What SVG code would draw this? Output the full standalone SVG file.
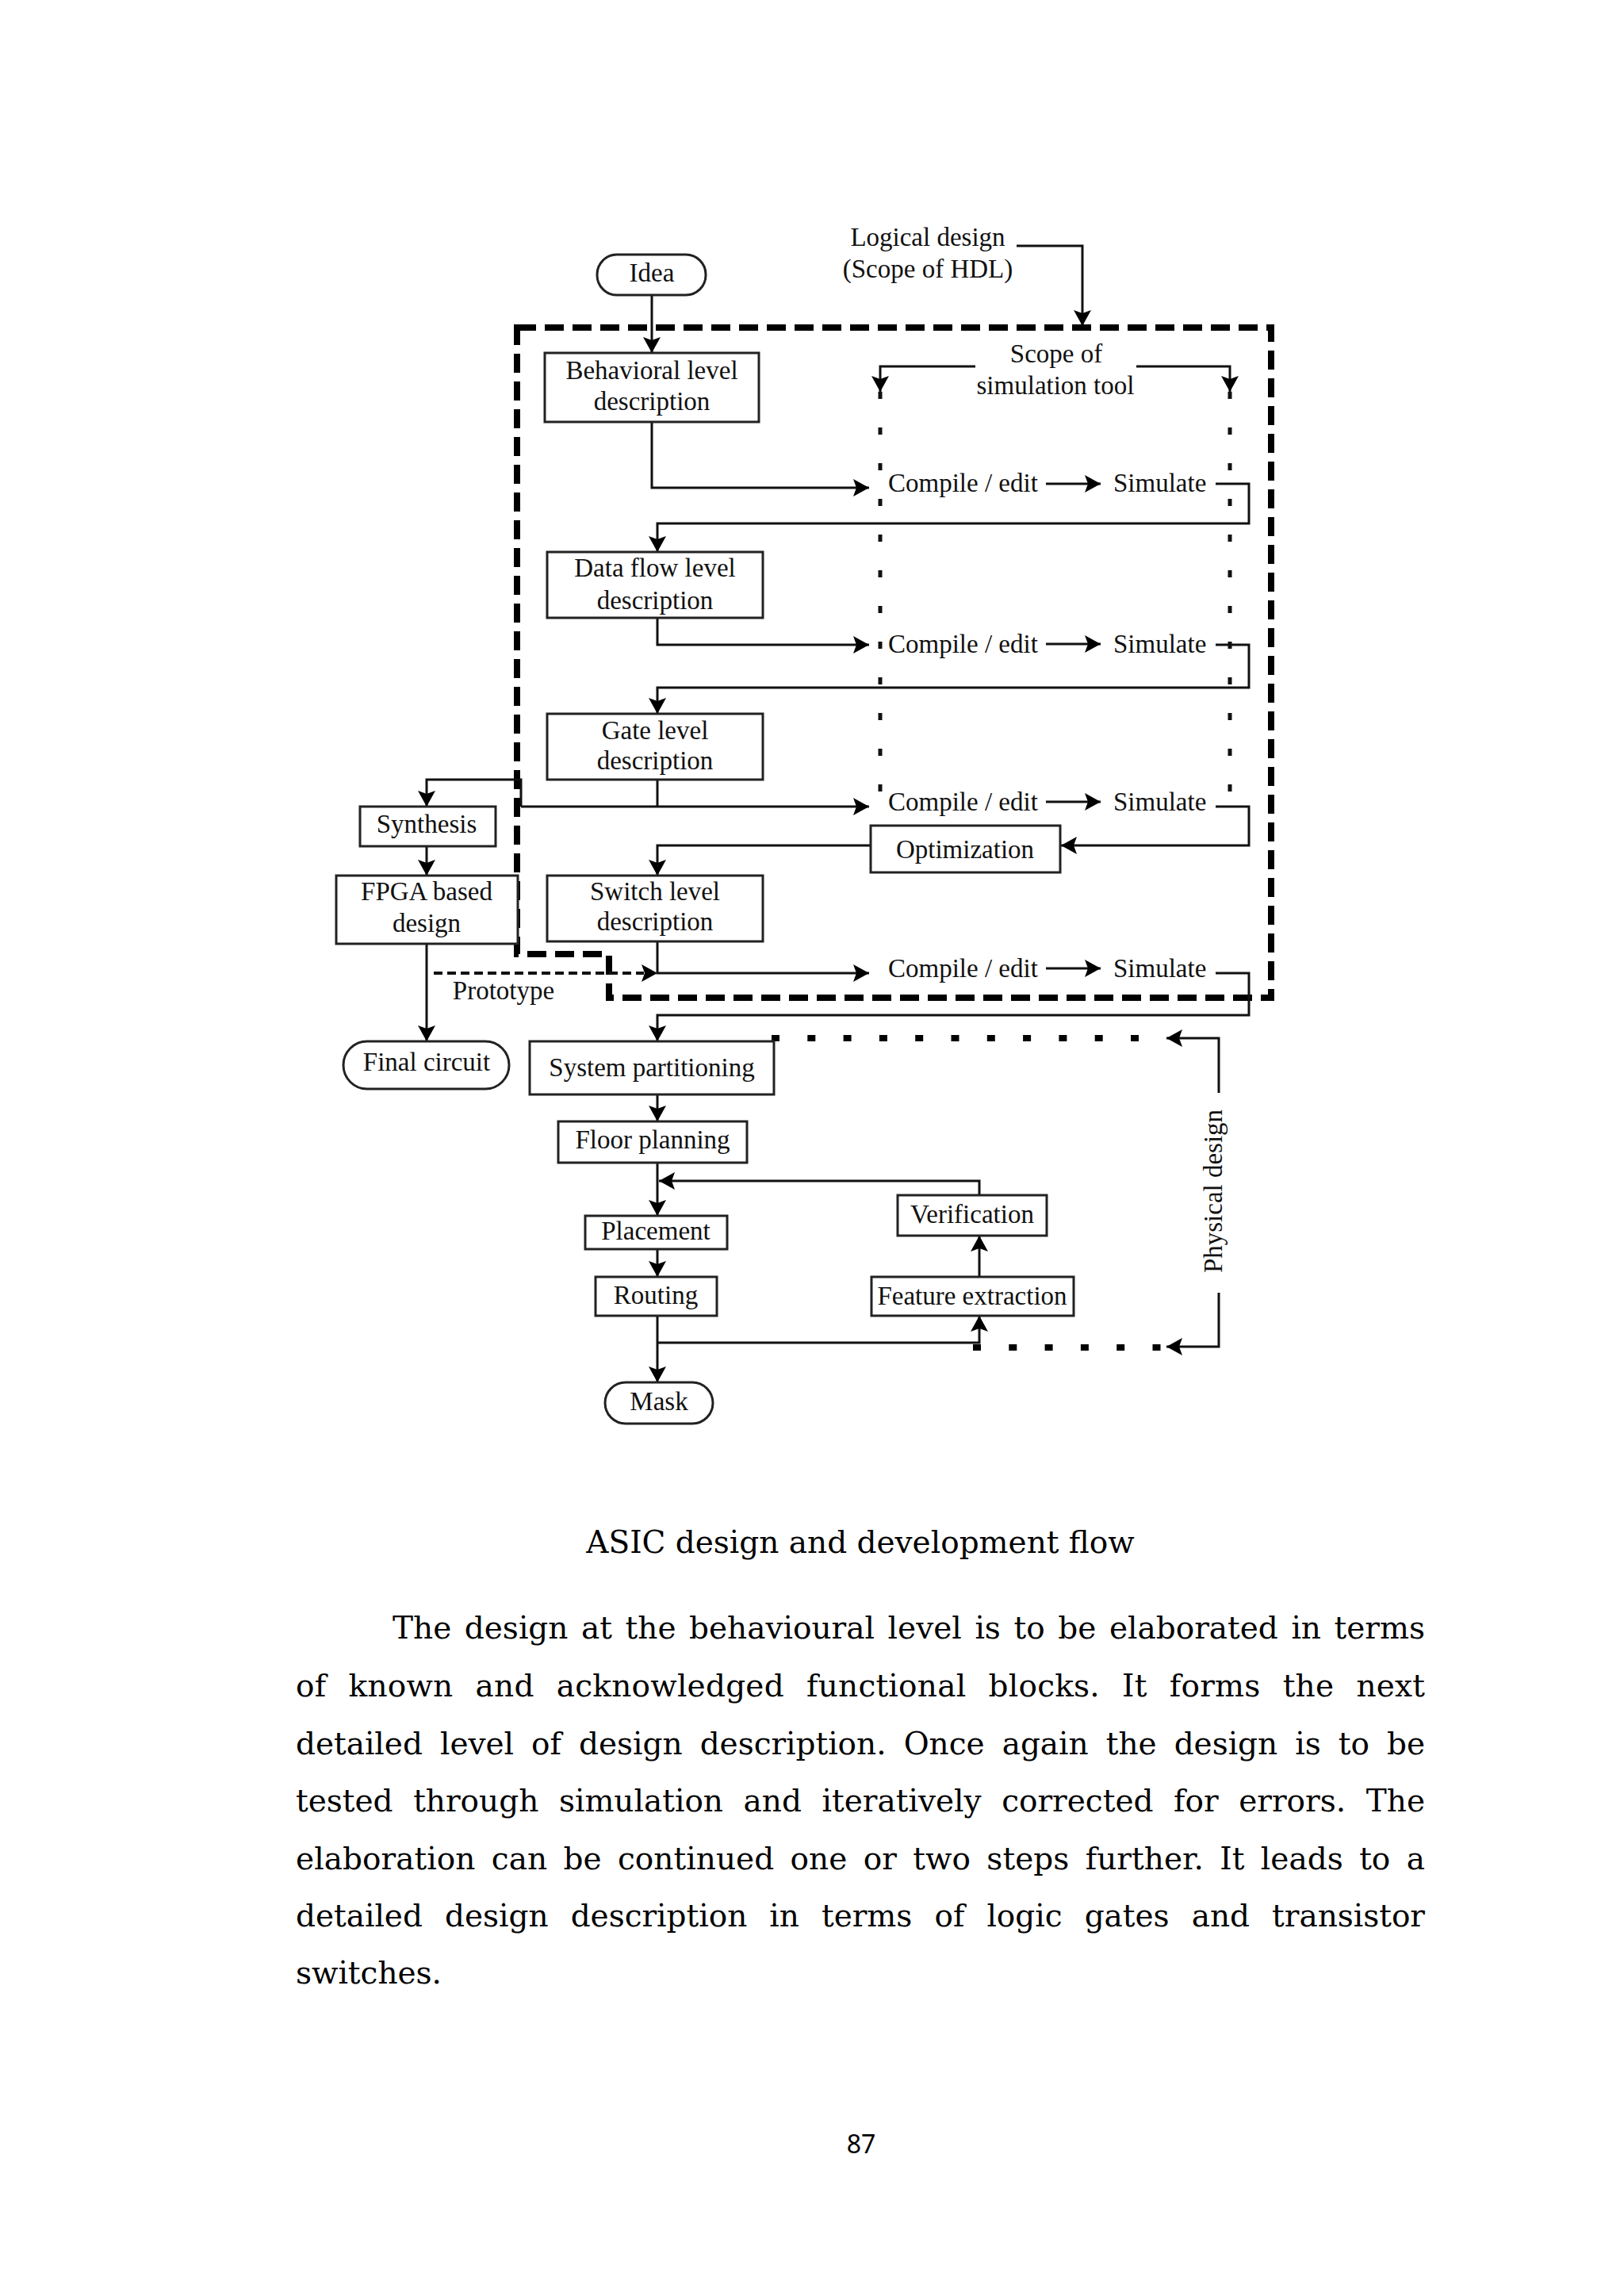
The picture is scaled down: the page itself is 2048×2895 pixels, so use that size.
<svg xmlns="http://www.w3.org/2000/svg" width="2048" height="2895" viewBox="0 0 2048 2895">
<defs>
<marker id="arr" viewBox="0 0 20 22" refX="20" refY="11" markerWidth="20" markerHeight="22" markerUnits="userSpaceOnUse" orient="auto">
<path d="M0,0 L20,11 L0,22 L4,11 z" fill="#000"/>
</marker>
<style>
.bx{fill:#fff;stroke:#222;stroke-width:3}
.lb{font-family:"Liberation Serif","Times New Roman",serif;font-size:33px;fill:#111;text-anchor:middle}
.ls{font-family:"Liberation Serif","Times New Roman",serif;font-size:33px;fill:#111}
.ln{fill:none;stroke:#111;stroke-width:3}
.ar{fill:none;stroke:#111;stroke-width:3;marker-end:url(#arr)}
.bd{fill:none;stroke:#000;stroke-width:8;stroke-dasharray:24 11}
.pr{fill:none;stroke:#111;stroke-width:4;stroke-dasharray:11 6}
.sd{fill:none;stroke:#111;stroke-width:5;stroke-dasharray:9 36}
.pd{fill:none;stroke:#000;stroke-width:8;stroke-dasharray:10 35.3}
.body{font-family:"DejaVu Serif",serif;font-size:39px;fill:#000}
</style>
</defs>
<rect width="2048" height="2895" fill="#fff"/>

<g id="boundary">
<path class="bd" d="M652,413 H1603 V1258 H768 V1203 H652 Z"/>
</g>

<g id="connectors">
<path class="ar" d="M822,372 V445"/>
<path class="ar" d="M822,532 V615 H1096"/>
<path class="ar" d="M1319,610 H1388"/>
<path class="ar" d="M1533,610 H1575 V660 H829 V696"/>
<path class="ar" d="M829,779 V813 H1096"/>
<path class="ar" d="M1319,812 H1388"/>
<path class="ar" d="M1533,813 H1575 V867 H829 V900"/>
<path class="ln" d="M829,983 V1017"/>
<path class="ar" d="M657,1017 H1096"/>
<path class="ar" d="M657,1017 V983 H538 V1017"/>
<path class="ar" d="M1319,1011 H1388"/>
<path class="ar" d="M1533,1017 H1575 V1066 H1338"/>
<path class="ar" d="M1098,1066 H829 V1104"/>
<path class="ar" d="M538,1067 V1104"/>
<path class="ar" d="M538,1190 V1313"/>
<path class="pr" d="M547,1227 H812"/>
<path d="M809,1216 L829,1227 L809,1238 L813,1227 z" fill="#000"/>
<path class="ar" d="M829,1187 V1227 H1096"/>
<path class="ar" d="M1319,1221 H1388"/>
<path class="ar" d="M1533,1227 H1575 V1280 H829 V1313"/>
<path class="ar" d="M1282,310 H1365 V411"/>
<path class="ar" d="M1230,462 H1110 V494"/>
<path class="ar" d="M1433,462 H1551 V494"/>
<path class="sd" d="M1110,494 V1005"/>
<path class="sd" d="M1551,494 V1005"/>
<path class="ar" d="M829,1380 V1414"/>
<path class="ar" d="M829,1466 V1533"/>
<path class="ar" d="M1235,1507 V1489 H831"/>
<path class="ar" d="M829,1575 V1610"/>
<path class="ar" d="M829,1659 V1743"/>
<path class="ar" d="M829,1693 H1235 V1659"/>
<path class="ar" d="M1235,1610 V1558"/>
<path class="ar" d="M1537,1378 V1309 H1471"/>
<path class="ar" d="M1537,1630 V1698 H1471"/>
<path class="pd" d="M973,1309 H1445"/>
<path class="pd" d="M1227,1699 H1465"/>
</g>

<g id="idea"><rect class="bx" x="753" y="321" width="137" height="51" rx="25"/><text class="lb" x="822" y="355">Idea</text></g>
<g id="logical-design"><text class="lb" x="1170" y="310">Logical design</text><text class="lb" x="1170" y="350">(Scope of HDL)</text></g>
<g id="scope-sim"><text class="lb" x="1332" y="457">Scope of</text><text class="lb" x="1331" y="497">simulation tool</text></g>
<g id="behavioral"><rect class="bx" x="687" y="445" width="270" height="87"/><text class="lb" x="822" y="478">Behavioral level</text><text class="lb" x="822" y="517">description</text></g>
<g id="dataflow"><rect class="bx" x="690" y="696" width="272" height="83"/><text class="lb" x="826" y="727">Data flow level</text><text class="lb" x="826" y="768">description</text></g>
<g id="gate"><rect class="bx" x="690" y="900" width="272" height="83"/><text class="lb" x="826" y="932">Gate level</text><text class="lb" x="826" y="970">description</text></g>
<g id="switch"><rect class="bx" x="690" y="1104" width="272" height="83"/><text class="lb" x="826" y="1135">Switch level</text><text class="lb" x="826" y="1173">description</text></g>
<g id="compile1"><text class="ls" x="1120" y="620">Compile / edit</text></g>
<g id="simulate1"><text class="ls" x="1404" y="620">Simulate</text></g>
<g id="compile2"><text class="ls" x="1120" y="823">Compile / edit</text></g>
<g id="simulate2"><text class="ls" x="1404" y="823">Simulate</text></g>
<g id="compile3"><text class="ls" x="1120" y="1022">Compile / edit</text></g>
<g id="simulate3"><text class="ls" x="1404" y="1022">Simulate</text></g>
<g id="compile4"><text class="ls" x="1120" y="1232">Compile / edit</text></g>
<g id="simulate4"><text class="ls" x="1404" y="1232">Simulate</text></g>
<g id="optimization"><rect class="bx" x="1098" y="1041" width="239" height="59"/><text class="lb" x="1217" y="1082">Optimization</text></g>
<g id="synthesis"><rect class="bx" x="454" y="1017" width="171" height="50"/><text class="lb" x="538" y="1050">Synthesis</text></g>
<g id="fpga"><rect class="bx" x="424" y="1104" width="229" height="86"/><text class="lb" x="538" y="1135">FPGA based</text><text class="lb" x="538" y="1175">design</text></g>
<g id="prototype"><text class="lb" x="635" y="1260">Prototype</text></g>
<g id="final"><rect class="bx" x="433" y="1313" width="209" height="60" rx="30"/><text class="lb" x="538" y="1350">Final circuit</text></g>
<g id="partitioning"><rect class="bx" x="668" y="1313" width="308" height="67"/><text class="lb" x="822" y="1357">System partitioning</text></g>
<g id="floor"><rect class="bx" x="704" y="1414" width="238" height="52"/><text class="lb" x="823" y="1448">Floor planning</text></g>
<g id="placement"><rect class="bx" x="738" y="1533" width="179" height="42"/><text class="lb" x="827" y="1563">Placement</text></g>
<g id="routing"><rect class="bx" x="751" y="1610" width="153" height="49"/><text class="lb" x="827" y="1644">Routing</text></g>
<g id="mask"><rect class="bx" x="763" y="1743" width="136" height="52" rx="26"/><text class="lb" x="831" y="1778">Mask</text></g>
<g id="verification"><rect class="bx" x="1132" y="1507" width="188" height="51"/><text class="lb" x="1226" y="1542">Verification</text></g>
<g id="feature"><rect class="bx" x="1099" y="1610" width="255" height="49"/><text class="lb" x="1226" y="1645">Feature extraction</text></g>
<g id="physical"><rect x="1515" y="1392" width="40" height="222" fill="#fff"/><text class="lb" transform="translate(1541,1502) rotate(-90)" x="0" y="0">Physical design</text></g>

<g id="caption"><text class="body" x="1085" y="1958" text-anchor="middle">ASIC design and development flow</text></g>
<g id="paragraph">
<text class="body" x="495" y="2066" textLength="1302" lengthAdjust="spacing" word-spacing="4.2">The design at the behavioural level is to be elaborated in terms</text>
<text class="body" x="373" y="2139" textLength="1424" lengthAdjust="spacing" word-spacing="15.5">of known and acknowledged functional blocks. It forms the next</text>
<text class="body" x="373" y="2212" textLength="1424" lengthAdjust="spacing" word-spacing="9.7">detailed level of design description. Once again the design is to be</text>
<text class="body" x="373" y="2284" textLength="1424" lengthAdjust="spacing" word-spacing="13.2">tested through simulation and iteratively corrected for errors. The</text>
<text class="body" x="373" y="2357" textLength="1424" lengthAdjust="spacing" word-spacing="7.9">elaboration can be continued one or two steps further. It leads to a</text>
<text class="body" x="373" y="2429" textLength="1424" lengthAdjust="spacing" word-spacing="15.7">detailed design description in terms of logic gates and transistor</text>
<text class="body" x="373" y="2501">switches.</text>
</g>
<g id="page-number"><text x="1086" y="2715" text-anchor="middle" font-family="Noto Sans, sans-serif" font-size="32" fill="#000">87</text></g>
</svg>
